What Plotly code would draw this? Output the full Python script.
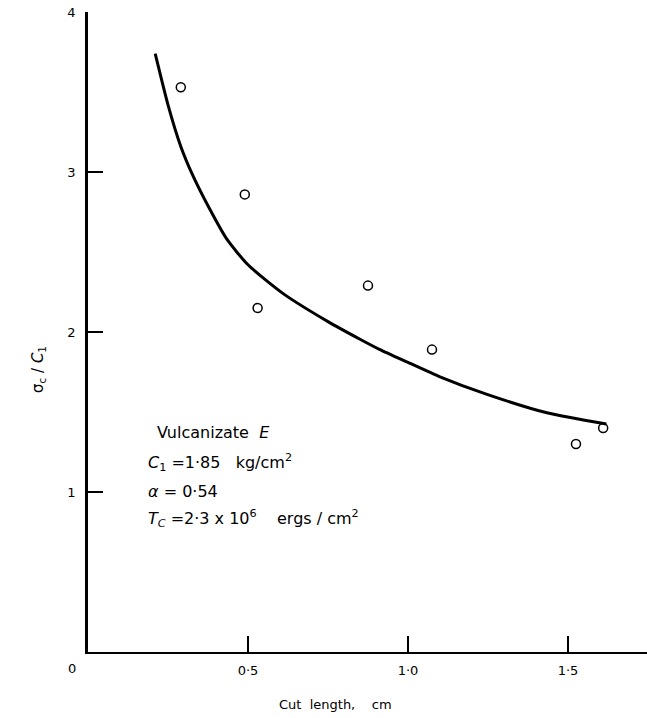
import plotly.graph_objects as go

# Measured data points (open circles)
cut_length = [0.29, 0.49, 0.53, 0.875, 1.075, 1.525, 1.61]
sigma_ratio = [3.53, 2.86, 2.15, 2.29, 1.89, 1.30, 1.40]

# Fitted curve
curve_x = [0.21, 0.25, 0.29, 0.325, 0.38, 0.434, 0.5, 0.61, 0.75, 0.85, 0.9125, 1.0, 1.1, 1.247, 1.434, 1.62]
curve_y = [3.74, 3.42, 3.16, 2.99, 2.77, 2.58, 2.42, 2.24, 2.065, 1.955, 1.89, 1.81, 1.72, 1.61, 1.495, 1.425]

x_tickvals = [0.5, 1.0, 1.5]
x_ticktext = ["0·5", "1·0", "1·5"]
y_tickvals = [1, 2, 3, 4]
y_ticktext = ["1", "2", "3", "4"]

FONT = "DejaVu Sans, sans-serif"

fig = go.Figure()
fig.add_trace(go.Scatter(x=curve_x, y=curve_y, mode="lines",
                         line=dict(color="black", width=3, shape="spline", smoothing=0.6),
                         hoverinfo="skip", showlegend=False))
fig.add_trace(go.Scatter(x=cut_length, y=sigma_ratio, mode="markers",
                         marker=dict(symbol="circle-open", size=9, color="black",
                                     line=dict(width=1.5, color="black")),
                         showlegend=False))

fig.update_layout(
    width=647, height=718,
    margin=dict(l=88, r=0, t=12, b=66),
    paper_bgcolor="white", plot_bgcolor="white",
    font=dict(family=FONT, color="black", size=12),
    xaxis=dict(range=[0, 1.747], showgrid=False, zeroline=False,
               showline=True, linecolor="black", linewidth=2,
               ticks="inside", ticklen=16, tickwidth=1.5, tickcolor="black",
               tickvals=x_tickvals, ticktext=x_ticktext, ticklabelstandoff=5,
               tickfont=dict(size=13, family=FONT, color="black")),
    yaxis=dict(range=[0, 4], showgrid=False, zeroline=False,
               showline=True, linecolor="black", linewidth=2.5,
               ticks="inside", ticklen=15, tickwidth=1.5, tickcolor="black",
               tickvals=y_tickvals, ticktext=y_ticktext, ticklabelstandoff=7,
               tickfont=dict(size=13, family=FONT, color="black")),
)

# pixel -> paper helpers (plot area: x 88..647, y 12..652)
def px(xp):
    return (xp - 88) / 559.0

def py(yp):
    return (652 - yp) / 640.0

def label(xp, yp, text, size=16, xanchor="left", angle=0):
    return dict(x=px(xp), y=py(yp), xref="paper", yref="paper", text=text,
                showarrow=False, xanchor=xanchor, yanchor="middle", textangle=angle,
                font=dict(size=size, family=FONT, color="black"))

ann = [
    label(72, 668, "0", size=13, xanchor="center"),
    label(335, 704, "Cut  length,    cm", size=13, xanchor="center"),
    label(38, 370, "σ<sub>c</sub> / <i>C</i><sub>1</sub>", size=15, xanchor="center", angle=-90),
    label(155, 432, "Vulcanizate  <i>E</i>"),
    label(146, 462, "<i>C</i><sub>1</sub> =1·85   kg/cm<sup>2</sup>"),
    label(146, 491, "<i>α</i> = 0·54"),
    label(146, 518, "<i>T<sub>C</sub></i> =2·3 x 10<sup>6</sup>    ergs / cm<sup>2</sup>"),
]
fig.update_layout(annotations=ann)

fig.write_html("out.html")
